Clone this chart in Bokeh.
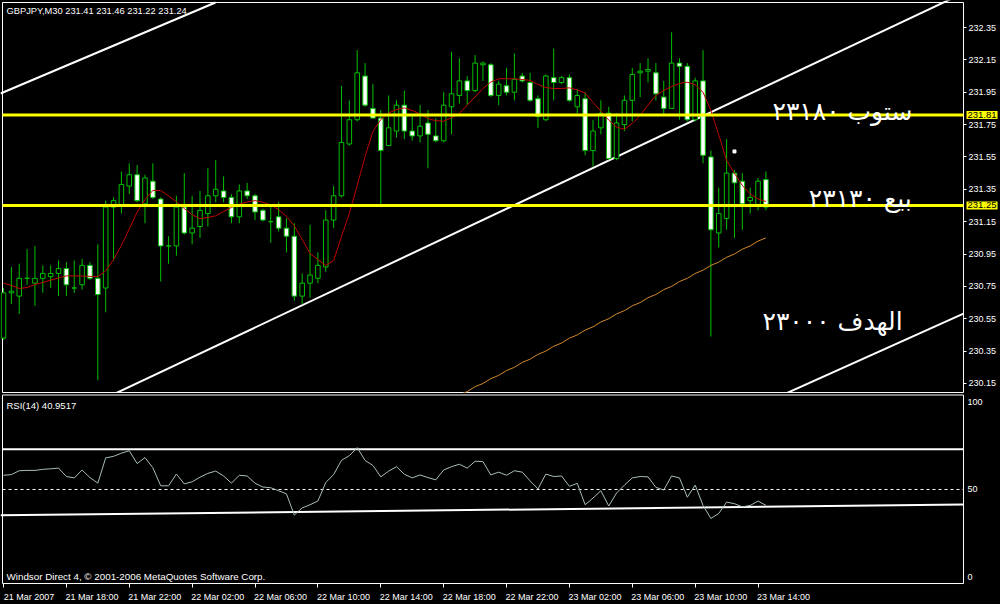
from bokeh.plotting import figure
from bokeh.models import (Range1d, FixedTicker, NumeralTickFormatter, Label,
                          ColumnDataSource, GlobalInlineStyleSheet)
from bokeh.layouts import column
from bokeh.embed import file_html
from bokeh.resources import INLINE

# ---------------- data ----------------
symbol = "GBPJPY,M30"

opens = [230.43, 230.71, 230.69, 230.80, 230.77, 230.80, 230.81, 230.83, 230.86, 230.74,
         230.76, 230.88, 230.80, 230.74, 231.24, 231.25, 231.37, 231.44, 231.26, 231.40,
         231.29, 231.00, 231.00, 231.24, 231.08, 231.12, 231.20, 231.31, 231.34, 231.30,
         231.18, 231.34, 231.31, 231.22, 231.15, 231.18, 231.11, 231.06, 230.69, 230.77,
         230.80, 230.87, 231.16, 231.31, 231.63, 231.78, 232.05, 231.85, 231.79, 231.62,
         231.71, 231.87, 231.71, 231.68, 231.76, 231.68, 231.65, 231.86, 231.93, 232.02,
         231.96, 232.12, 232.12, 231.93, 231.99, 231.95, 232.05, 232.01, 231.91, 231.78,
         232.04, 232.01, 232.04, 231.86, 231.91, 231.59, 231.73, 231.82, 231.54, 231.75,
         231.90, 232.07, 232.08, 232.07, 231.92, 231.85, 232.13, 232.11, 231.78, 232.02,
         231.55, 231.08, 231.17, 231.45, 231.40, 231.28, 231.25, 231.41]
highs = [230.74, 230.87, 230.89, 230.98, 231.00, 230.88, 230.88, 230.91, 230.90, 230.91,
         230.92, 230.90, 231.01, 231.28, 231.30, 231.46, 231.51, 231.50, 231.44, 231.51,
         231.30, 231.06, 231.31, 231.45, 231.31, 231.34, 231.48, 231.53, 231.43, 231.32,
         231.38, 231.39, 231.32, 231.23, 231.24, 231.27, 231.17, 231.14, 230.83, 231.13,
         230.96, 231.22, 231.37, 231.99, 231.90, 232.21, 232.13, 232.00, 231.84, 231.93,
         231.90, 231.96, 231.81, 231.87, 231.84, 231.79, 231.95, 232.20, 232.16, 232.05,
         232.18, 232.14, 232.13, 232.02, 232.10, 232.19, 232.07, 232.07, 231.93, 232.06,
         232.22, 232.05, 232.06, 231.97, 231.95, 231.78, 231.90, 231.86, 231.82, 231.93,
         232.10, 232.13, 232.16, 232.13, 232.02, 232.32, 232.16, 232.13, 232.04, 232.21,
         231.59, 231.36, 231.66, 231.47, 231.45, 231.36, 231.42, 231.46]
lows = [230.42, 230.64, 230.58, 230.76, 230.63, 230.71, 230.74, 230.69, 230.69, 230.71,
        230.73, 230.79, 230.17, 230.59, 230.91, 231.20, 231.32, 231.27, 231.14, 231.29,
        230.78, 230.89, 230.94, 231.07, 231.01, 231.05, 231.12, 231.27, 231.27, 231.14,
        231.14, 231.29, 231.16, 231.15, 231.02, 231.09, 230.96, 230.66, 230.64, 230.68,
        230.77, 230.84, 231.11, 231.30, 231.62, 231.77, 231.86, 231.79, 231.25, 231.62,
        231.67, 231.66, 231.65, 231.64, 231.48, 231.64, 231.64, 231.69, 231.88, 231.87,
        231.95, 232.02, 231.92, 231.87, 231.93, 231.90, 232.01, 231.89, 231.73, 231.77,
        231.90, 232.00, 231.89, 231.82, 231.56, 231.49, 231.69, 231.53, 231.53, 231.71,
        231.77, 231.92, 232.01, 231.90, 231.81, 231.85, 231.78, 231.77, 231.77, 231.51,
        230.44, 230.99, 231.10, 231.05, 231.10, 231.20, 231.22, 231.22]
closes = [230.71, 230.72, 230.80, 230.80, 230.80, 230.83, 230.83, 230.86, 230.76, 230.74,
          230.88, 230.80, 230.70, 231.24, 231.28, 231.38, 231.44, 231.28, 231.42, 231.30,
          231.00, 231.00, 231.24, 231.08, 231.11, 231.22, 231.31, 231.35, 231.30, 231.18,
          231.34, 231.31, 231.21, 231.16, 231.15, 231.11, 231.06, 230.69, 230.77, 230.82,
          230.88, 231.16, 231.31, 231.64, 231.78, 232.07, 231.87, 231.79, 231.59, 231.73,
          231.87, 231.71, 231.68, 231.74, 231.69, 231.65, 231.87, 231.94, 232.02, 231.96,
          232.13, 232.13, 231.93, 232.00, 231.95, 232.03, 232.02, 231.90, 231.80, 232.05,
          232.01, 232.04, 231.90, 231.93, 231.59, 231.71, 231.82, 231.54, 231.76, 231.90,
          232.06, 232.08, 232.09, 231.94, 231.85, 232.13, 232.11, 231.78, 232.02, 231.56,
          231.10, 231.20, 231.45, 231.39, 231.26, 231.30, 231.40, 231.24]

ma_red = [230.770, 230.756, 230.737, 230.743, 230.762, 230.774, 230.789, 230.802, 230.815, 230.815,
          230.814, 230.812, 230.811, 230.845, 230.916, 231.003, 231.105, 231.209, 231.287, 231.343,
          231.343, 231.309, 231.273, 231.231, 231.194, 231.168, 231.176, 231.186, 231.213, 231.238,
          231.258, 231.272, 231.280, 231.270, 231.253, 231.225, 231.182, 231.124, 231.040, 230.953,
          230.916, 230.879, 230.910, 231.058, 231.201, 231.374, 231.553, 231.707, 231.781, 231.822,
          231.843, 231.853, 231.837, 231.815, 231.788, 231.774, 231.771, 231.792, 231.818, 231.871,
          231.921, 231.973, 232.013, 232.033, 232.033, 232.033, 232.029, 232.023, 231.998, 231.979,
          231.973, 231.973, 231.977, 231.964, 231.945, 231.887, 231.834, 231.778, 231.735, 231.721,
          231.757, 231.806, 231.871, 231.930, 231.961, 231.985, 232.004, 232.012, 231.996, 231.950,
          231.837, 231.686, 231.528, 231.448, 231.374, 231.321, 231.290, 231.275]

ma_orange_first_bar = 56
ma_orange = [230.03, 230.05, 230.08, 230.10, 230.13, 230.15, 230.18, 230.20, 230.23, 230.25,
             230.28, 230.30, 230.33, 230.35, 230.38, 230.40, 230.43, 230.45, 230.48, 230.50,
             230.53, 230.55, 230.58, 230.60, 230.63, 230.65, 230.68, 230.70, 230.73, 230.75,
             230.78, 230.80, 230.83, 230.85, 230.88, 230.90, 230.93, 230.95, 230.98, 231.00,
             231.03, 231.05]

rsi = [58.1, 58.5, 60.7, 60.9, 60.9, 61.5, 61.8, 62.2, 57.4, 56.6,
       61.1, 56.8, 53.6, 68.0, 68.9, 70.7, 72.1, 64.8, 68.2, 62.4,
       52.1, 52.1, 58.8, 53.2, 54.4, 57.0, 59.2, 60.5, 57.7, 53.6,
       58.1, 57.7, 53.6, 51.4, 51.0, 49.3, 47.5, 35.4, 39.5, 41.3,
       43.4, 54.0, 58.5, 66.6, 69.3, 73.9, 66.6, 63.7, 57.2, 60.5,
       63.0, 58.7, 56.6, 58.3, 56.8, 55.5, 61.1, 63.0, 64.4, 62.2,
       66.1, 65.9, 58.3, 59.9, 58.1, 60.7, 59.9, 54.9, 50.3, 58.8,
       57.4, 57.7, 51.8, 53.5, 41.3, 45.1, 49.3, 40.6, 48.0, 52.5,
       56.6, 57.4, 57.2, 51.2, 49.7, 57.7, 56.6, 45.6, 52.5, 40.9,
       33.5, 36.3, 42.8, 41.9, 40.1, 40.9, 43.4, 40.95]
rsi_current = 40.9517

time_tick_bars = [0, 8, 16, 24, 32, 40, 48, 56, 64, 72, 80, 88, 96]
time_labels = ["21 Mar 2007", "21 Mar 18:00", "21 Mar 22:00", "22 Mar 02:00", "22 Mar 06:00",
               "22 Mar 10:00", "22 Mar 14:00", "22 Mar 18:00", "22 Mar 22:00", "23 Mar 02:00",
               "23 Mar 06:00", "23 Mar 10:00", "23 Mar 14:00"]
price_ticks = [232.35, 232.15, 231.95, 231.75, 231.55, 231.35, 231.15, 230.95, 230.75, 230.55,
               230.35, 230.15]
rsi_ticks = [0, 50, 100]

stop_level = 231.81
sell_level = 231.25
stop_text = "ستوب ٢٣١٨٠"
sell_text = "بيع ٢٣١٣٠"
target_text = "الهدف ٢٣٠٠٠"
target_level = 230.535

# drawn channel lines (bar, price) end points
chan_x0 = [-0.38, 12.34, 98.85]
chan_y0 = [231.942, 230.045, 230.073]
chan_x1 = [26.97, 122.14, 122.14]
chan_y1 = [232.5045, 232.563, 230.582]

# RSI drawn lines
rsi_upper_level = 72.9
rsi_low_x = [-0.38, 122.14]
rsi_low_y = [35.3, 41.4]

marker_bar = [93]
marker_price = [231.584]

# ---------------- layout constants ----------------
GREEN = "#00c000"
FONT = "Liberation Sans"
AR_FONT = "DejaVu Sans"
W = 1000
x_lo, x_hi = -0.382, 126.845          # whole canvas width in bar units
bx_l, bx_r = -0.127, 122.14           # chart border (left / right)
p_lo, p_hi = 230.088, 232.5169        # price panel canvas span
pb_lo, pb_hi = 230.094, 232.5045      # price panel border
r_lo, r_hi = -4.19, 104.75            # RSI panel canvas span
rb_lo, rb_hi = -3.63, 103.9           # RSI panel border


def base_fig(height, y_range, x_range, bottom=0):
    f = figure(width=W, height=height, x_range=x_range, y_range=y_range,
               y_axis_location="right", output_backend="svg", toolbar_location=None,
               background_fill_color="black", border_fill_color="black",
               min_border_left=0, min_border_right=0, min_border_top=0,
               min_border_bottom=bottom, outline_line_color=None)
    f.xgrid.visible = False
    f.ygrid.visible = False
    return f


def style_right_axis(ax, ticks, tick_out, standoff):
    ax.fixed_location = bx_r
    ax.ticker = FixedTicker(ticks=ticks)
    ax.axis_line_color = None
    ax.major_tick_line_color = "white"
    ax.major_tick_out = tick_out
    ax.major_tick_in = 0
    ax.minor_tick_line_color = None
    ax.major_label_text_color = "white"
    ax.major_label_text_font = FONT
    ax.major_label_text_font_size = "9px"
    ax.major_label_standoff = standoff


# ---------------- price panel ----------------
xr = Range1d(x_lo, x_hi)
p = base_fig(393, Range1d(p_lo, p_hi), xr)
p.xaxis.visible = False
style_right_axis(p.yaxis[0], price_ticks, 3, 2)
p.yaxis[0].formatter = NumeralTickFormatter(format="0.00")

# border
p.line([bx_r, bx_l, bx_l, bx_r, bx_r], [pb_hi, pb_hi, pb_lo, pb_lo, pb_hi],
       line_color="white", line_width=1)

bars = list(range(len(opens)))
src = ColumnDataSource(dict(
    x=bars, o=opens, h=highs, l=lows, c=closes,
    top=[max(o, c) for o, c in zip(opens, closes)],
    bottom=[min(o, c) for o, c in zip(opens, closes)],
    fill=["black" if c >= o else "white" for o, c in zip(opens, closes)],
))

p.segment(x0=chan_x0, y0=chan_y0, x1=chan_x1, y1=chan_y1, line_color="white", line_width=2)

p.segment(x0="x", y0="l", x1="x", y1="h", source=src, line_color=GREEN, line_width=1)
p.vbar(x="x", width=0.58, top="top", bottom="bottom", fill_color="fill", line_color=GREEN,
       line_width=1, source=src)

p.line(bars, ma_red, line_color="#c00000", line_width=1)
orange_bars = list(range(ma_orange_first_bar, ma_orange_first_bar + len(ma_orange)))
p.line(orange_bars, ma_orange, line_color="#d2882c", line_width=1)
p.scatter(marker_bar, marker_price, marker="square", size=3, color="white")

for lvl in (stop_level, sell_level):
    p.segment(x0=[bx_l], y0=[lvl], x1=[bx_r], y1=[lvl], line_color="#ffff00", line_width=3)
    p.add_layout(Label(x=bx_r, y=lvl, x_offset=3, text=f"{lvl:.2f}", text_baseline="middle",
                       text_color="black", background_fill_color="#ffff00", padding=1,
                       text_font=FONT, text_font_size="9.5px"))

p.add_layout(Label(x=bx_l, y=pb_hi, x_offset=4, y_offset=-3, text_baseline="top",
                   text=f"{symbol}  {opens[-1]:.2f} {highs[-1]:.2f} {lows[-1]:.2f} {closes[-1]:.2f}",
                   text_color="white", text_font=FONT, text_font_size="9.3px"))

p.add_layout(Label(x=115.65, y=stop_level, y_offset=3, text=stop_text,
                   text_align="right", text_baseline="alphabetic", text_color="white",
                   text_font=AR_FONT, text_font_size="25px"))
p.add_layout(Label(x=115.55, y=sell_level, y_offset=6.5, text=sell_text,
                   text_align="right", text_baseline="alphabetic", text_color="white",
                   text_font=AR_FONT, text_font_size="25px"))
p.add_layout(Label(x=114.4, y=target_level, text=target_text, text_align="right",
                   text_baseline="alphabetic", text_color="white", text_font=AR_FONT,
                   text_font_size="25px"))

# ---------------- RSI panel ----------------
r = base_fig(211, Range1d(r_lo, r_hi), xr, bottom=16)
style_right_axis(r.yaxis[0], rsi_ticks, 0, 4)

label_centres = [b + 3.25 for b in time_tick_bars]
xa = r.xaxis[0]
xa.ticker = FixedTicker(ticks=label_centres, minor_ticks=time_tick_bars)
xa.major_label_overrides = {c: t for c, t in zip(label_centres, time_labels)}
xa.axis_line_color = None
xa.major_tick_line_color = None
xa.major_tick_out = 0
xa.major_tick_in = 0
xa.minor_tick_line_color = "white"
xa.minor_tick_out = 3
xa.minor_tick_in = 1
xa.major_label_text_color = "white"
xa.major_label_text_font = FONT
xa.major_label_text_font_size = "9px"
xa.major_label_standoff = 4

r.line([bx_r, bx_l, bx_l, bx_r, bx_r], [rb_hi, rb_hi, rb_lo, rb_lo, rb_hi],
       line_color="white", line_width=1)
r.segment(x0=[bx_l], y0=[50], x1=[bx_r], y1=[50], line_color="white", line_width=1,
          line_dash="3 3")
r.segment(x0=[bx_l], y0=[rsi_upper_level], x1=[bx_r], y1=[rsi_upper_level],
          line_color="white", line_width=2)
r.line(rsi_low_x, rsi_low_y, line_color="white", line_width=2)
r.line(bars, rsi, line_color="#a8bcbc", line_width=1)

r.add_layout(Label(x=bx_l, y=rb_hi, x_offset=4, y_offset=-5, text_baseline="top",
                   text=f"RSI(14) {rsi_current:.4f}", text_color="white", text_font=FONT,
                   text_font_size="9.5px"))
r.add_layout(Label(x=bx_l, y=rb_lo, x_offset=4, y_offset=2, text_baseline="bottom",
                   text="Windsor Direct 4, © 2001-2006 MetaQuotes Software Corp.",
                   text_color="white", text_font=FONT, text_font_size="9.8px"))

layout = column(p, r, spacing=0,
                stylesheets=[GlobalInlineStyleSheet(css="html, body { background-color: #000000; }")])

open("out.html", "w").write(file_html(layout, INLINE))
